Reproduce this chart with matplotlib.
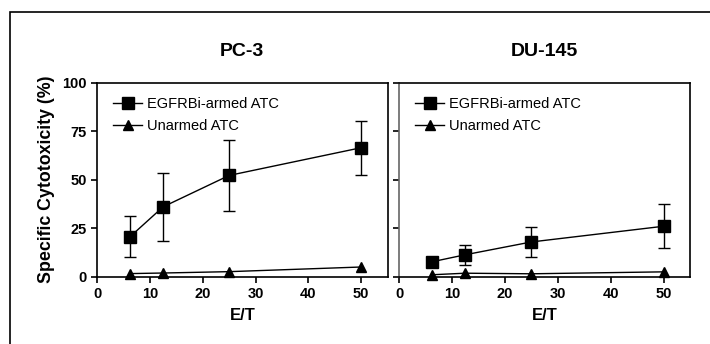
import matplotlib
matplotlib.use("Agg")
import matplotlib.pyplot as plt
from matplotlib.lines import Line2D
from matplotlib.patches import Rectangle

plt.rcParams['font.family'] = ['Liberation Sans', 'DejaVu Sans']

et_ratio = [6.25, 12.5, 25, 50]
pc3_armed = [20.6, 36.0, 52.2, 66.5]
pc3_armed_err = [10.6, 17.4, 18.5, 13.9]
pc3_unarmed = [1.6, 1.9, 2.6, 5.0]
du145_armed = [7.7, 11.3, 17.9, 26.0]
du145_armed_err = [2.5, 5.2, 7.8, 11.3]
du145_unarmed = [1.0, 1.8, 1.5, 2.5]
titles = ["PC-3", "DU-145"]
legend_labels = ["EGFRBi-armed ATC", "Unarmed ATC"]
xticks = [0, 10, 20, 30, 40, 50]
yticks = [0, 25, 50, 75, 100]

fig = plt.figure(figsize=(7.1, 3.44), dpi=100)
fig.patches.append(Rectangle((10/710, -0.1), 1.2, 1 - 12/344 + 0.1, transform=fig.transFigure,
                             fill=False, edgecolor='black', linewidth=1.2))

ax1 = fig.add_axes([97/710, 1 - 276.7/344, (387.7 - 97)/710, (276.7 - 82.7)/344])
ax2 = fig.add_axes([399/710, 1 - 276.7/344, (690 - 399)/710, (276.7 - 82.7)/344])

datasets = [(pc3_armed, pc3_armed_err, pc3_unarmed), (du145_armed, du145_armed_err, du145_unarmed)]
for ax, (armed, err, unarmed), title in zip([ax1, ax2], datasets, titles):
    ax.errorbar(et_ratio, armed, yerr=err, color='black', marker='s', markersize=8.5,
                linewidth=1.0, elinewidth=1.0, capsize=4, capthick=1.0, label=legend_labels[0])
    ax.plot(et_ratio, unarmed, color='black', marker='^', markersize=7.5, linewidth=1.0,
            label=legend_labels[1], clip_on=False)
    ax.set_xlim(0, 55)
    ax.set_ylim(0, 100)
    ax.set_xticks(xticks)
    ax.set_yticks(yticks)
    ax.tick_params(direction='out', length=4, width=1.2)
    for lab in ax.get_xticklabels() + ax.get_yticklabels():
        lab.set_fontweight('bold')
        lab.set_fontsize(10.5)
    for sp in ax.spines.values():
        sp.set_linewidth(1.2)
    ax.set_xlabel("E/T", fontsize=12, fontweight='bold', labelpad=5)
    ax.set_title(title, fontsize=14, fontweight='bold', pad=19)
    handles = [Line2D([], [], color='black', marker='s', markersize=8.5, linewidth=1.0),
               Line2D([], [], color='black', marker='^', markersize=7.5, linewidth=1.0)]
    ax.legend(handles, legend_labels, loc='upper left', frameon=False, fontsize=10.5,
              handlelength=2.0, handletextpad=0.3, labelspacing=0.55,
              bbox_to_anchor=(0.02, 0.98), borderaxespad=0.3)

ax1.set_ylabel("Specific Cytotoxicity (%)", fontsize=12.8, fontweight='bold', labelpad=5)
ax2.set_yticklabels([])
ax2.spines['left'].set_color('#666666')

fig.savefig("out.png", dpi=100)
